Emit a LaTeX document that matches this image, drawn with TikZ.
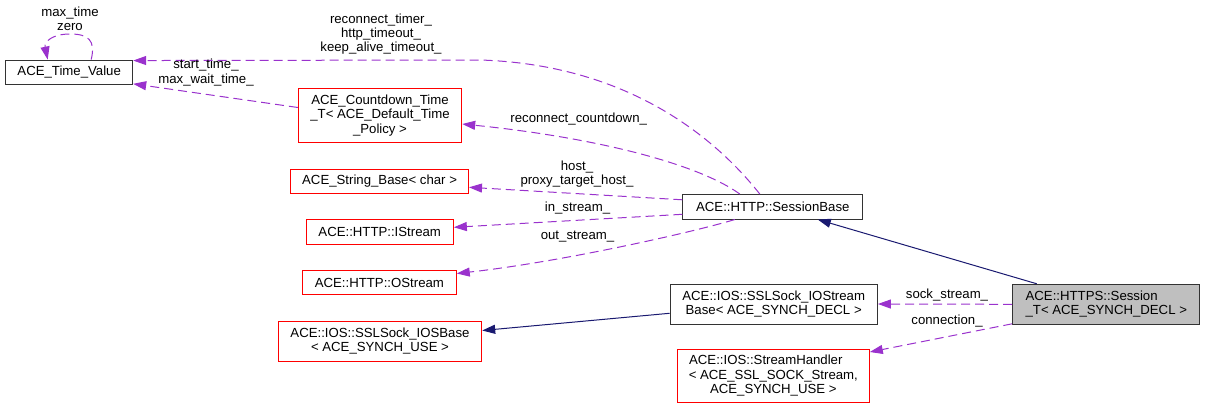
\documentclass[tikz,border=0pt]{standalone}
\usepackage{fontspec}
\setmainfont{Liberation Sans}
\usetikzlibrary{arrows.meta}
\usetikzlibrary{calc}
\definecolor{usepurple}{HTML}{9A32CD}
\definecolor{basenavy}{HTML}{191970}
\definecolor{nodegray}{HTML}{BFBFBF}
\tikzset{cls/.style = {draw = black!80, line width = 1pt, inner sep = 0, align = center, font = \fontsize{13.2}{14.3}\selectfont}}
\tikzset{nodoc/.style = {cls, draw = red}}
\tikzset{curcls/.style = {cls, fill = nodegray, align = left}}
\tikzset{uses/.style = {usepurple, line width = 1pt, dash pattern = on 9pt off 5pt, -{Triangle[length = 13pt, width = 9pt]}}}
\tikzset{inherits/.style = {basenavy, line width = 1pt, -{Triangle[length = 13pt, width = 9pt]}}}
\tikzset{lbl/.style = {align = center, inner sep = 0, font = \fontsize{13.2}{14.3}\selectfont}}

\begin{document}
\begin{tikzpicture}[x = 1pt, y = -1pt]
      \useasboundingbox (0, 0) rectangle (1205, 409);

      \node [cls, minimum width = 127, minimum height = 24.3] (tv) at (69.2, 72.2) {ACE\_Time\_Value};
      \node [nodoc, minimum width = 163.4, minimum height = 54.4] (cd) at (380, 115.5) {ACE\_Countdown\_Time\\\_T< ACE\_Default\_Time\\\_Policy >};
      \node [nodoc, minimum width = 177.8, minimum height = 24.6] (str) at (379.6, 181.5) {ACE\_String\_Base< char >};
      \node [nodoc, minimum width = 147.3, minimum height = 24.6] (is) at (379.7, 231.7) {ACE::HTTP::IStream};
      \node [nodoc, minimum width = 153.7, minimum height = 24.6] (os) at (379.4, 282.5) {ACE::HTTP::OStream};
      \node [nodoc, minimum width = 203.4, minimum height = 40] (iob) at (380, 341) {ACE::IOS::SSLSock\_IOSBase\\< ACE\_SYNCH\_USE >};

      \node [cls, minimum width = 179.7, minimum height = 24.5] (sb) at (772.8, 206.8) {ACE::HTTP::SessionBase};
      \node [cls, minimum width = 207.3, minimum height = 40] (iosb) at (773.7, 304) {ACE::IOS::SSLSock\_IOStream\\Base< ACE\_SYNCH\_DECL >};
      \node [nodoc, minimum width = 192, minimum height = 53.3] (sh) at (773.3, 375.7) {ACE::IOS::StreamHandler\hspace*{15pt}\\< ACE\_SSL\_SOCK\_Stream,\\ACE\_SYNCH\_USE >};

      \node [curcls, minimum width = 187.3, minimum height = 40] (https) at (1106.3, 304.3) {ACE::HTTPS::Session\\\_T< ACE\_SYNCH\_DECL >};

      \draw [uses] ($(tv.north)+(22,0)$) .. controls (96, 40) and (88, 34) .. (70, 34) .. controls (52, 34) and (44, 42) .. ($(tv.north)+(-21.5,0)$);
      \node [lbl] (lself) at (70, 19) {max\_time\\zero};

      \draw [uses] ($(sb.north)+(-13,0)$) .. controls (725, 150) and (640, 65) .. (480, 60) -- ($(tv.north east)+(0,1)$);
      \node [lbl] (ltimer) at (381, 34) {reconnect\_timer\_\\http\_timeout\_\\keep\_alive\_timeout\_};

      \draw [uses] ($(cd.west)+(0,-8)$) -- ($(tv.south east)+(0,-1)$);
      \node [lbl] (lstart) at (206, 72.5) {start\_time\_\\max\_wait\_time\_};

      \draw [uses] ($(sb.north)+(-33,0)$) .. controls (700, 165) and (600, 138) .. ($(cd.east)+(0,8.5)$);
      \node [lbl] (lcount) at (578.7, 119.3) {reconnect\_countdown\_};

      \draw [uses] ($(sb.west)+(0,-7)$) -- ($(str.east)+(0,5.8)$);
      \node [lbl] (lhost) at (577, 174) {host\_\\proxy\_target\_host\_};

      \draw [uses] ($(sb.west)+(0,7.5)$) -- ($(is.east)+(0,-4.4)$);
      \node [lbl] (lin) at (577.5, 208.3) {in\_stream\_};

      \draw [uses] ($(sb.south)+(-38,0)$) .. controls (690, 233) and (560, 262) .. ($(os.east)+(0,-9)$);
      \node [lbl] (lout) at (577.5, 236.7) {out\_stream\_};

      \draw [inherits] ($(https.north)+(-69.5,0)$) -- ($(sb.south)+(45,0)$);
      \draw [inherits] ($(iosb.west)+(0,9.3)$) -- ($(iob.east)+(0,-10.5)$);

      \draw [uses] (https.west) -- (iosb.east);
      \node [lbl] (lsock) at (947, 295) {sock\_stream\_};

      \draw [uses] ($(https.south west)+(0,-1)$) -- ($(sh.east)+(0,-23.7)$);
      \node [lbl] (lconn) at (947, 321) {connection\_};
\end{tikzpicture}
\end{document}
